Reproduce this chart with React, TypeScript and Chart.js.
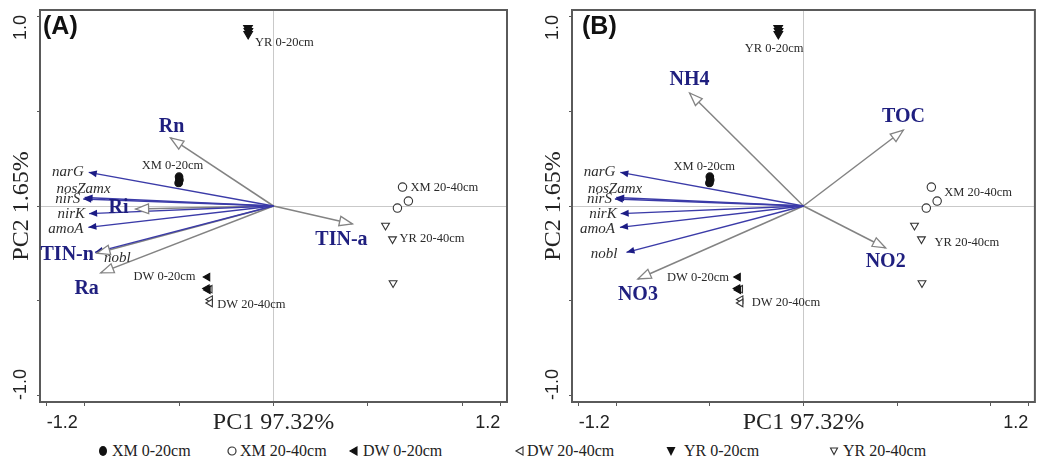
import React, { useEffect, useRef } from 'react';
import { Chart, registerables } from 'chart.js';

Chart.register(...registerables);

// ---------------- data ----------------
const X_TICKS = [-1.2, -1.0, -0.5, 0, 0.5, 1.0, 1.2];
const X_TICK_LABELS = ['-1.2', '', '', 'PC1 97.32%', '', '', '1.2'];
const Y_TICKS = [-1.0, -0.5, 0, 0.5, 1.0];
const Y_TICK_LABELS = ['-1.0', '', '', '', '1.0'];
const Y_TITLE = 'PC2 1.65%';
const PANEL_LETTERS = ['(A)', '(B)'];

// gene vectors (same in both panels)
const GENES = ['narG', 'nosZamx', 'nirS', 'nirK', 'amoA', 'nobl'];
const GENE_PC1 = [-0.978, -1.0, -1.007, -0.976, -0.98, -0.945];
const GENE_PC2 = [0.178, 0.045, 0.037, -0.04, -0.113, -0.245];

// environmental vectors, panel A
const ENV_A = ['Rn', 'Ri', 'Ra', 'TIN-a', 'TIN-n'];
const ENV_A_PC1 = [-0.545, -0.73, -0.915, 0.418, -0.935];
const ENV_A_PC2 = [0.36, -0.016, -0.354, -0.095, -0.25];

// environmental vectors, panel B
const ENV_B = ['NH4', 'NO3', 'TOC', 'NO2'];
const ENV_B_PC1 = [-0.608, -0.884, 0.534, 0.439];
const ENV_B_PC2 = [0.598, -0.386, 0.402, -0.222];

// sample scores (same in both panels)
const GROUPS = ['XM 0-20cm', 'XM 20-40cm', 'DW 0-20cm', 'DW 20-40cm', 'YR 0-20cm', 'YR 20-40cm'];
const XM0_PC1 = [-0.5, -0.498, -0.502];
const XM0_PC2 = [0.155, 0.138, 0.122];
const XM2_PC1 = [0.683, 0.714, 0.656];
const XM2_PC2 = [0.1, 0.026, -0.011];
const DW0_PC1 = [-0.349, -0.352, -0.347];
const DW0_PC2 = [-0.376, -0.437, -0.444];
const DW2_PC1 = [-0.337, -0.335, -0.335];
const DW2_PC2 = [-0.44, -0.495, -0.513];
const YR0_PC1 = [-0.135, -0.133, -0.134];
const YR0_PC2 = [0.942, 0.926, 0.91];
const YR2_PC1 = [0.593, 0.63, 0.633];
const YR2_PC2 = [-0.103, -0.175, -0.407];

const GROUP_PC1 = [XM0_PC1, XM2_PC1, DW0_PC1, DW2_PC1, YR0_PC1, YR2_PC1];
const GROUP_PC2 = [XM0_PC2, XM2_PC2, DW0_PC2, DW2_PC2, YR0_PC2, YR2_PC2];

// ---------------- styles ----------------
const SERIF = '"Liberation Serif", "Times New Roman", serif';
const SANS = '"Liberation Sans", Arial, sans-serif';
const NAVY = '#1f1f7f';
const BLUE_LINE = '#3b3ba8';
const BLUE_HEAD = '#1c1c85';
const GRAY = '#838383';
const DARK = '#232323';
const FRAME = '#5a5a5a';

const MARKERS = [
  { style: 'circle', rotation: 0, radius: 3.8, fill: '#111', stroke: '#111' },
  { style: 'circle', rotation: 0, radius: 4.2, fill: '#fff', stroke: '#333' },
  { style: 'triangle', rotation: 270, radius: 4.3, fill: '#111', stroke: '#111' },
  { style: 'triangle', rotation: 270, radius: 4.3, fill: '#fff', stroke: '#333' },
  { style: 'triangle', rotation: 180, radius: 5, fill: '#111', stroke: '#111' },
  { style: 'triangle', rotation: 180, radius: 4.5, fill: '#fff', stroke: '#333' },
];

type Off = { dx: number; dy: number; align: CanvasTextAlign; idx?: number };

const GENE_LABEL_A: Off[] = [
  { dx: -5, dy: 0, align: 'right' },
  { dx: 26, dy: -8.5, align: 'right' },
  { dx: -3, dy: 0, align: 'right' },
  { dx: -4, dy: 0.5, align: 'right' },
  { dx: -5, dy: 1.5, align: 'right' },
  { dx: 9, dy: 6, align: 'left' },
];
const GENE_LABEL_B: Off[] = [
  { dx: -5, dy: 0, align: 'right' },
  { dx: 26, dy: -8.5, align: 'right' },
  { dx: -3, dy: 0, align: 'right' },
  { dx: -4, dy: 0.5, align: 'right' },
  { dx: -5, dy: 1.5, align: 'right' },
  { dx: -9, dy: 2, align: 'right' },
];
const ENV_LABEL_A: Off[] = [
  { dx: 1, dy: -11, align: 'center' },
  { dx: -7, dy: -1, align: 'right' },
  { dx: -14, dy: 16, align: 'center' },
  { dx: -11, dy: 15.5, align: 'center' },
  { dx: -3, dy: 2, align: 'right' },
];
const ENV_LABEL_B: Off[] = [
  { dx: 0, dy: -13, align: 'center' },
  { dx: 0, dy: 16, align: 'center' },
  { dx: 0, dy: -13, align: 'center' },
  { dx: 0, dy: 14, align: 'center' },
];
const SAMPLE_LABEL_A: Off[] = [
  { idx: 0, dx: -6.5, dy: -11, align: 'center' },
  { idx: 0, dx: 8, dy: 1, align: 'left' },
  { idx: 0, dx: -12, dy: 0, align: 'right' },
  { idx: 2, dx: 7, dy: 2, align: 'left' },
  { idx: 0, dx: 7, dy: 15, align: 'left' },
  { idx: 1, dx: 7, dy: 0, align: 'left' },
];
const SAMPLE_LABEL_B: Off[] = [
  { idx: 0, dx: -5.5, dy: -10, align: 'center' },
  { idx: 0, dx: 13, dy: 6, align: 'left' },
  { idx: 0, dx: -9, dy: 1, align: 'right' },
  { idx: 2, dx: 11, dy: 0, align: 'left' },
  { idx: 0, dx: -4, dy: 21, align: 'center' },
  { idx: 1, dx: 13, dy: 4, align: 'left' },
];

type PanelCfg = {
  letter: string;
  letterDx: number;
  env: string[];
  envX: number[];
  envY: number[];
  envLabel: Off[];
  geneLabel: Off[];
  sampleLabel: Off[];
  padRight: number;
};

const PANELS: PanelCfg[] = [
  {
    letter: PANEL_LETTERS[0], letterDx: 3, env: ENV_A, envX: ENV_A_PC1, envY: ENV_A_PC2,
    envLabel: ENV_LABEL_A, geneLabel: GENE_LABEL_A, sampleLabel: SAMPLE_LABEL_A, padRight: 13,
  },
  {
    letter: PANEL_LETTERS[1], letterDx: 10, env: ENV_B, envX: ENV_B_PC1, envY: ENV_B_PC2,
    envLabel: ENV_LABEL_B, geneLabel: GENE_LABEL_B, sampleLabel: SAMPLE_LABEL_B, padRight: 1,
  },
];

const X_RANGE = 1.236;
const Y_RANGE = 1.037;

function buildChart(canvas: HTMLCanvasElement, panel: PanelCfg) {
  const datasets: any[] = [];

  // sample points
  GROUPS.forEach((g, gi) => {
    const m = MARKERS[gi];
    datasets.push({
      label: g,
      data: GROUP_PC1[gi].map((x, k) => ({ x, y: GROUP_PC2[gi][k] })),
      showLine: false,
      pointStyle: m.style,
      pointRotation: m.rotation,
      pointRadius: m.radius,
      pointHoverRadius: m.radius,
      pointBackgroundColor: m.fill,
      pointBorderColor: m.stroke,
      pointBorderWidth: 1.1,
      order: 0,
    });
  });

  // gene arrows
  GENES.forEach((g, i) => {
    datasets.push({
      label: g,
      data: [{ x: 0, y: 0 }, { x: GENE_PC1[i], y: GENE_PC2[i] }],
      showLine: true,
      borderColor: BLUE_LINE,
      borderWidth: 1.3,
      pointRadius: 0,
      pointHoverRadius: 0,
      arrowHead: 'filled',
      order: 1,
    });
  });

  // env arrows
  panel.env.forEach((e, i) => {
    datasets.push({
      label: e,
      data: [{ x: 0, y: 0 }, { x: panel.envX[i], y: panel.envY[i] }],
      showLine: true,
      borderColor: GRAY,
      borderWidth: 1.5,
      pointRadius: 0,
      pointHoverRadius: 0,
      arrowHead: 'open',
      order: 2,
    });
  });

  const decor = {
    id: 'biplotDecor',
    afterDatasetsDraw(chart: any) {
      const ctx = chart.ctx as CanvasRenderingContext2D;
      chart.data.datasets.forEach((ds: any, i: number) => {
        if (!ds.arrowHead) return;
        const meta = chart.getDatasetMeta(i);
        const p0 = meta.data[0];
        const p1 = meta.data[1];
        const ang = Math.atan2(p1.y - p0.y, p1.x - p0.x);
        const open = ds.arrowHead === 'open';
        const L = open ? 13 : 8;
        const W = open ? 4.8 : 3.4;
        ctx.save();
        ctx.translate(p1.x, p1.y);
        ctx.rotate(ang);
        ctx.beginPath();
        ctx.moveTo(0, 0);
        ctx.lineTo(-L, W);
        ctx.lineTo(-L, -W);
        ctx.closePath();
        if (open) {
          ctx.fillStyle = '#fff';
          ctx.fill();
          ctx.strokeStyle = GRAY;
          ctx.lineWidth = 1.3;
          ctx.stroke();
        } else {
          ctx.fillStyle = BLUE_HEAD;
          ctx.fill();
        }
        ctx.restore();
      });
    },
    afterDraw(chart: any) {
      const ctx = chart.ctx as CanvasRenderingContext2D;
      const xs = chart.scales.x;
      const ys = chart.scales.y;
      const area = chart.chartArea;

      // frame
      ctx.save();
      ctx.strokeStyle = FRAME;
      ctx.lineWidth = 2;
      ctx.strokeRect(area.left, area.top, area.right - area.left, area.bottom - area.top);
      ctx.restore();

      const put = (text: string, vx: number, vy: number, o: Off, font: string, color: string) => {
        ctx.save();
        ctx.font = font;
        ctx.fillStyle = color;
        ctx.textAlign = o.align;
        ctx.textBaseline = 'middle';
        ctx.fillText(text, xs.getPixelForValue(vx) + o.dx, ys.getPixelForValue(vy) + o.dy);
        ctx.restore();
      };

      GENES.forEach((g, i) => put(g, GENE_PC1[i], GENE_PC2[i], panel.geneLabel[i], `italic 15px ${SERIF}`, '#2e2e2e'));
      panel.env.forEach((e, i) => put(e, panel.envX[i], panel.envY[i], panel.envLabel[i], `bold 20px ${SERIF}`, NAVY));
      GROUPS.forEach((g, gi) => {
        const o = panel.sampleLabel[gi];
        const k = o.idx ?? 0;
        put(g, GROUP_PC1[gi][k], GROUP_PC2[gi][k], o, `12.5px ${SERIF}`, '#2a2a2a');
      });

      // y tick labels (rotated)
      ctx.save();
      ctx.font = `18px ${SANS}`;
      ctx.fillStyle = DARK;
      ctx.textBaseline = 'middle';
      const ly = area.left - 18.5;
      Y_TICKS.forEach((v, i) => {
        const lab = Y_TICK_LABELS[i];
        if (!lab) return;
        ctx.save();
        const py = ys.getPixelForValue(v);
        if (v > 0) {
          ctx.translate(ly, py - 2);
          ctx.rotate(-Math.PI / 2);
          ctx.textAlign = 'right';
        } else {
          ctx.translate(ly, py + 5);
          ctx.rotate(-Math.PI / 2);
          ctx.textAlign = 'left';
        }
        ctx.fillText(lab, 0, 0);
        ctx.restore();
      });
      ctx.restore();

      // panel letter
      ctx.save();
      ctx.font = `bold 25px ${SANS}`;
      ctx.fillStyle = '#111';
      ctx.textAlign = 'left';
      ctx.textBaseline = 'middle';
      ctx.fillText(panel.letter, area.left + panel.letterDx, area.top + 17);
      ctx.restore();
    },
  };

  return new Chart(canvas, {
    type: 'scatter',
    data: { datasets },
    options: {
      animation: false,
      responsive: false,
      events: [],
      layout: { padding: { left: 0, right: panel.padRight, top: 10, bottom: 0 } },
      plugins: { legend: { display: false }, tooltip: { enabled: false } },
      scales: {
        x: {
          type: 'linear',
          min: -X_RANGE,
          max: X_RANGE,
          afterBuildTicks: (scale: any) => {
            scale.ticks = X_TICKS.map((v) => ({ value: v }));
          },
          afterFit: (scale: any) => {
            scale.height = 38;
          },
          ticks: {
            autoSkip: false,
            maxRotation: 0,
            minRotation: 0,
            align: 'inner',
            padding: 5,
            color: DARK,
            callback: (_v: any, i: number) => X_TICK_LABELS[i],
            font: (c: any) =>
              c.index === 3
                ? { family: SERIF, size: 24, lineHeight: '24px' }
                : { family: SANS, size: 18, lineHeight: '24px' },
          },
          grid: {
            color: (c: any) => (c.tick && c.tick.value === 0 ? '#c9c9c9' : 'rgba(0,0,0,0)'),
            tickColor: FRAME,
            tickLength: 4,
            lineWidth: 1,
          },
          border: { display: false },
        },
        y: {
          type: 'linear',
          min: -Y_RANGE,
          max: Y_RANGE,
          afterBuildTicks: (scale: any) => {
            scale.ticks = Y_TICKS.map((v) => ({ value: v }));
          },
          afterFit: (scale: any) => {
            scale.width = 40;
          },
          ticks: { display: false },
          title: {
            display: true,
            text: Y_TITLE,
            color: DARK,
            font: { family: SERIF, size: 24, lineHeight: '24px' },
            padding: { top: 10, bottom: 0 },
          },
          grid: {
            color: (c: any) => (c.tick && c.tick.value === 0 ? '#c9c9c9' : 'rgba(0,0,0,0)'),
            tickColor: FRAME,
            tickLength: 3,
            lineWidth: 1,
          },
          border: { display: false },
        },
      },
    } as any,
    plugins: [decor],
  });
}

const LEGEND_POS = [
  { mx: 103, tx: 112 },
  { mx: 232, tx: 240 },
  { mx: 354, tx: 363 },
  { mx: 520, tx: 527 },
  { mx: 671, tx: 684 },
  { mx: 834, tx: 843 },
];

function LegendMarker({ i }: { i: number }) {
  const m = MARKERS[i];
  let shape: React.ReactNode = null;
  if (m.style === 'circle') {
    shape =
      i === 0 ? (
        <ellipse cx={6} cy={6} rx={4} ry={5} fill="#111" />
      ) : (
        <circle cx={6} cy={6} r={4} fill="#fff" stroke="#333" strokeWidth={1.2} />
      );
  } else if (m.rotation === 270) {
    shape = <polygon points="2,6 9,2 9,10" fill={m.fill} stroke={m.stroke} strokeWidth={1.1} />;
  } else {
    shape =
      i === 4 ? (
        <polygon points="1.5,2 10.5,2 6,11" fill="#111" />
      ) : (
        <polygon points="2.5,3 9.5,3 6,9.5" fill="#fff" stroke="#333" strokeWidth={1.1} />
      );
  }
  return (
    <svg width={12} height={12} style={{ position: 'absolute', left: -6, top: 4 }}>
      {shape}
    </svg>
  );
}

export default function App() {
  const refA = useRef<HTMLCanvasElement>(null);
  const refB = useRef<HTMLCanvasElement>(null);

  useEffect(() => {
    const charts = [buildChart(refA.current!, PANELS[0]), buildChart(refB.current!, PANELS[1])];
    return () => charts.forEach((c) => c.destroy());
  }, []);

  return (
    <div
      style={{
        position: 'absolute',
        left: 0,
        top: 0,
        width: 1041,
        height: 461,
        background: '#fff',
        overflow: 'hidden',
      }}
    >
      <canvas
        ref={refA}
        width={520}
        height={440}
        style={{ position: 'absolute', left: 0, top: 0, width: 520, height: 440 }}
      />
      <canvas
        ref={refB}
        width={509}
        height={440}
        style={{ position: 'absolute', left: 532, top: 0, width: 509, height: 440 }}
      />
      {GROUPS.map((g, i) => (
        <div key={g} style={{ position: 'absolute', top: 441, left: 0, height: 20 }}>
          <div style={{ position: 'absolute', left: LEGEND_POS[i].mx, top: 0, width: 12, height: 20 }}>
            <LegendMarker i={i} />
          </div>
          <span
            style={{
              position: 'absolute',
              left: LEGEND_POS[i].tx,
              top: 0,
              whiteSpace: 'nowrap',
              font: `16px ${SERIF}`,
              lineHeight: '20px',
              color: '#222',
            }}
          >
            {g}
          </span>
        </div>
      ))}
    </div>
  );
}
